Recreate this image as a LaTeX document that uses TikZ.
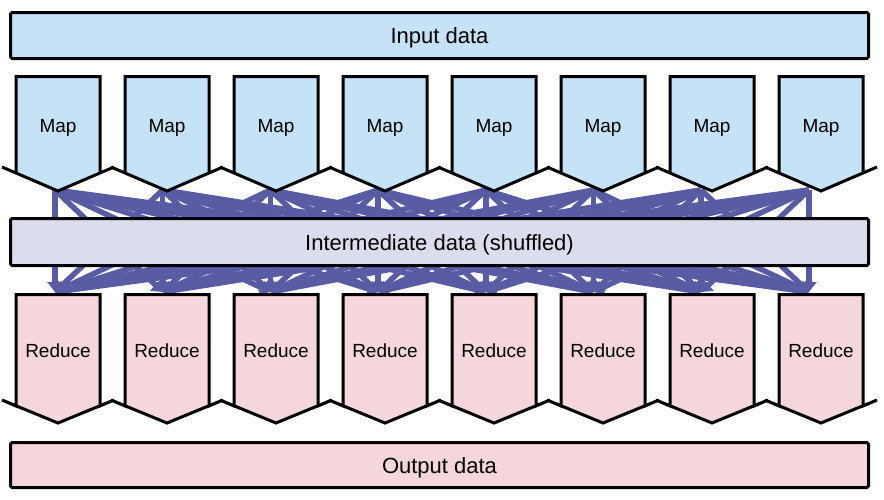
\documentclass[tikz,border=0pt]{standalone}
\usepackage{fontspec}
\setmainfont{Liberation Sans}
\usetikzlibrary{arrows.meta}

\definecolor{mapblue}{RGB}{198,226,246}
\definecolor{shufgray}{RGB}{220,221,236}
\definecolor{redpink}{RGB}{244,214,219}
\definecolor{flowblue}{RGB}{89,92,163}

\tikzset{
  bar/.style={draw=black, line width=3pt, rounded corners=1.5pt, minimum width=858pt, inner sep=0pt, text height=16pt, text depth=0pt, font=\fontsize{22}{26}\selectfont},
  slot/.style={draw=black, line width=3pt, line join=miter, miter limit=20},
  lbl/.style={inner sep=0pt, font=\fontsize{19}{22}\selectfont},
  flow/.style={flowblue, line width=5.5pt, -{Triangle[width=15pt,length=10pt]}}
}

\begin{document}
\begin{tikzpicture}[x=1pt,y=-1pt] %pixel grid, y downwards
\useasboundingbox (0,0) rectangle (884,499);
	%Ends of the shuffle connectors
\foreach \i in {1,...,8}{
  \coordinate (mo\i) at ({55+107.7*(\i-1)},190); %map output
  \coordinate (ri\i) at ({55+107.7*(\i-1)},292); %reduce input
}
	%Shuffle: every map to every reduce
\foreach \i in {1,...,8}
  \foreach \j in {1,...,8}
    \draw[flow] (mo\i) -- (ri\j);
	%Bars
\node[bar, fill=mapblue, minimum height=46pt] (input) at (439.5,35.5) {Input data}; %input
\node[bar, fill=shufgray, minimum height=47pt] (shuf) at (439.5,242) {Intermediate data (shuffled)}; %intermediate
\node[bar, fill=redpink, minimum height=45pt] (output) at (439.5,465) {Output data}; %output
	%Map slots
\foreach \i in {1,...,8}{
  \pgfmathsetmacro\cx{58+109*(\i-1)}
  \draw[slot, fill=mapblue] (\cx-42,76.5) -- (\cx+42,76.5) -- (\cx+42,173) -- (\cx+56,167) -- (\cx,191) -- (\cx-56,167) -- (\cx-42,173) -- cycle;
  \node[lbl] (map\i) at (\cx,127.5) {Map};
}
	%Reduce slots
\foreach \i in {1,...,8}{
  \pgfmathsetmacro\cx{58+109*(\i-1)}
  \draw[slot, fill=redpink] (\cx-42,294.5) -- (\cx+42,294.5) -- (\cx+42,406) -- (\cx+56,400) -- (\cx,423) -- (\cx-56,400) -- (\cx-42,406) -- cycle;
  \node[lbl] (red\i) at (\cx,351) {Reduce};
}
\end{tikzpicture}
\end{document}
